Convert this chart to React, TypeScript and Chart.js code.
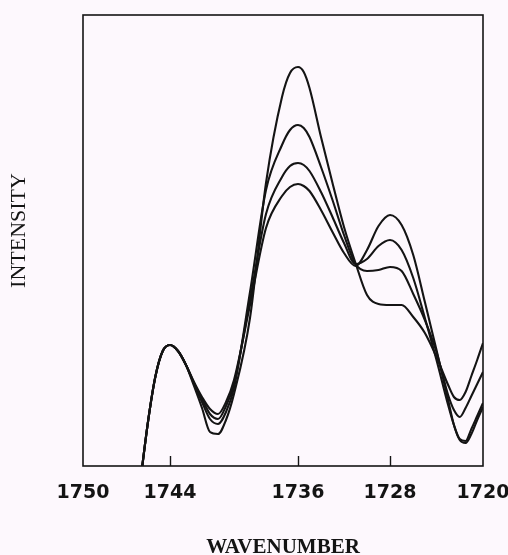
import { useEffect, useRef } from 'react';
import { Chart, registerables, LinearScale } from 'chart.js';

// ---- data ----
const wavenumbers = [
  1746.2, 1745.5, 1745, 1744.5, 1744, 1743.5, 1743, 1742.5, 1742, 1741.5,
  1741, 1740.5, 1740, 1739, 1738, 1737, 1736.5, 1736, 1735.5, 1735,
  1734, 1733, 1732, 1731, 1730, 1729, 1728, 1727, 1726, 1725,
  1724, 1723, 1722.5, 1722, 1721.5, 1721, 1720.5, 1720,
];

const intensityA = [
  -34, 46, 90, 115, 121, 115, 101, 80, 58, 34,
  32, 46, 72, 148, 283, 369, 393, 399, 394, 378,
  329, 283, 239, 203, 171, 162, 161, 161, 149, 133,
  109, 81, 69, 66, 74, 90, 106, 123,
];
const intensityB = [
  -34, 46, 90, 115, 121, 115, 101, 82, 64, 47,
  42, 54, 78, 174, 276, 321, 336, 341, 338, 329,
  299, 266, 231, 202, 195, 196, 199, 195, 172, 146,
  114, 71, 56, 49, 58, 70, 82, 94,
];
const intensityC = [
  -34, 46, 90, 115, 121, 115, 101, 83, 67, 52,
  47, 60, 82, 166, 252, 289, 300, 303, 301, 295,
  274, 249, 223, 202, 207, 220, 226, 216, 188, 148,
  106, 61, 41, 27, 25, 37, 50, 63,
];
const intensityD = [
  -34, 46, 90, 115, 121, 115, 101, 84, 69, 57,
  52, 64, 86, 161, 238, 270, 279, 282, 280, 275,
  256, 234, 213, 200, 216, 240, 251, 241, 211, 164,
  116, 66, 41, 26, 23, 32, 46, 59,
];

const tickValues = [1750, 1744, 1736, 1728, 1720];
const innerTickValues = [1744, 1736, 1728];
const xTitle = 'WAVENUMBER';
const yTitle = 'INTENSITY';

// printed axis is not uniformly spaced: label positions as fractions of the axis
const axisKnotValues = [1750, 1744, 1736, 1728, 1720];
const axisKnotFractions = [0, 0.2175, 0.5375, 0.7675, 1];

class PiecewiseScale extends LinearScale {
  static id = 'piecewise';
  static defaults = LinearScale.defaults;
  getPixelForValue(value: number) {
    const k = axisKnotValues;
    const f = axisKnotFractions;
    let i = 0;
    while (i < k.length - 2 && value < k[i + 1]) i++;
    const t = (k[i] - value) / (k[i] - k[i + 1]);
    return this.getPixelForDecimal(f[i] + t * (f[i + 1] - f[i]));
  }
  getValueForPixel(pixel: number) {
    const k = axisKnotValues;
    const f = axisKnotFractions;
    const d = this.getDecimalForPixel(pixel);
    let i = 0;
    while (i < f.length - 2 && d > f[i + 1]) i++;
    const t = (d - f[i]) / (f[i + 1] - f[i]);
    return k[i] + t * (k[i + 1] - k[i]);
  }
}

Chart.register(...registerables, PiecewiseScale as any);

const INK = '#141414';

const paperPlugin = {
  id: 'paper',
  beforeDraw(chart: any) {
    const { ctx, width, height } = chart;
    ctx.save();
    ctx.fillStyle = '#fdf8fd';
    ctx.fillRect(0, 0, width, height);
    ctx.restore();
  },
  afterDraw(chart: any) {
    const { ctx, chartArea } = chart;
    const { left, right, top, bottom } = chartArea;
    ctx.save();
    ctx.strokeStyle = INK;
    ctx.lineWidth = 1.6;
    ctx.strokeRect(left, top, right - left, bottom - top);
    const xs = chart.scales.x;
    ctx.lineWidth = 1.4;
    innerTickValues.forEach((v) => {
      const px = Math.round(xs.getPixelForValue(v)) + 0.5;
      ctx.beginPath();
      ctx.moveTo(px, bottom);
      ctx.lineTo(px, bottom - 10);
      ctx.stroke();
    });
    // rotated y-axis title, placed as in the printed figure
    ctx.translate(19.5, (top + bottom) / 2 - 10);
    ctx.rotate(-Math.PI / 2);
    ctx.fillStyle = INK;
    ctx.font = '22px "Liberation Serif"';
    ctx.textAlign = 'center';
    ctx.textBaseline = 'middle';
    ctx.fillText(yTitle, 0, 0);
    ctx.restore();
  },
};

function makeSet(data: number[]) {
  return {
    data: wavenumbers.map((w, i) => ({ x: w, y: data[i] })),
    borderColor: INK,
    borderWidth: 2.1,
    pointRadius: 0,
    fill: false,
    cubicInterpolationMode: 'monotone' as const,
  };
}

export default function App() {
  const ref = useRef<HTMLCanvasElement | null>(null);
  useEffect(() => {
    if (!ref.current) return;
    const chart = new Chart(ref.current, {
      type: 'line',
      data: {
        datasets: [
          makeSet(intensityA),
          makeSet(intensityB),
          makeSet(intensityC),
          makeSet(intensityD),
        ],
      },
      options: {
        animation: false,
        responsive: false,
        layout: { padding: { left: 0, right: 25, top: 15, bottom: 0 } },
        plugins: { legend: { display: false }, tooltip: { enabled: false } },
        scales: {
          x: {
            type: 'piecewise' as any,
            min: 1720,
            max: 1750,
            afterBuildTicks: (s: any) => {
              s.ticks = tickValues.map((v) => ({ value: v }));
            },
            afterFit: (s: any) => {
              s.height = 89;
              s.paddingLeft = 0;
              s.paddingRight = 0;
            },
            grid: { display: false, drawTicks: false },
            border: { display: false },
            ticks: {
              autoSkip: false,
              maxRotation: 0,
              padding: 16,
              color: INK,
              font: { family: 'DejaVu Sans', size: 19, weight: 'bold' },
              callback: (v: any) => String(v),
            },
            title: {
              display: true,
              text: xTitle,
              color: INK,
              font: { family: 'Liberation Serif', size: 21, weight: 'bold', lineHeight: 1 },
              padding: { top: 0, bottom: -3 },
            },
          } as any,
          y: {
            min: 0,
            max: 451,
            afterFit: (s: any) => {
              s.width = 83;
              s.paddingTop = 0;
              s.paddingBottom = 0;
            },
            grid: { display: false, drawTicks: false },
            border: { display: false },
            ticks: { display: false },
            title: { display: false },
          },
        },
      },
      plugins: [paperPlugin],
    });
    return () => chart.destroy();
  }, []);
  return (
    <canvas
      ref={ref}
      width={508}
      height={555}
      style={{ position: 'fixed', left: 0, top: 0, width: 508, height: 555 }}
    />
  );
}
